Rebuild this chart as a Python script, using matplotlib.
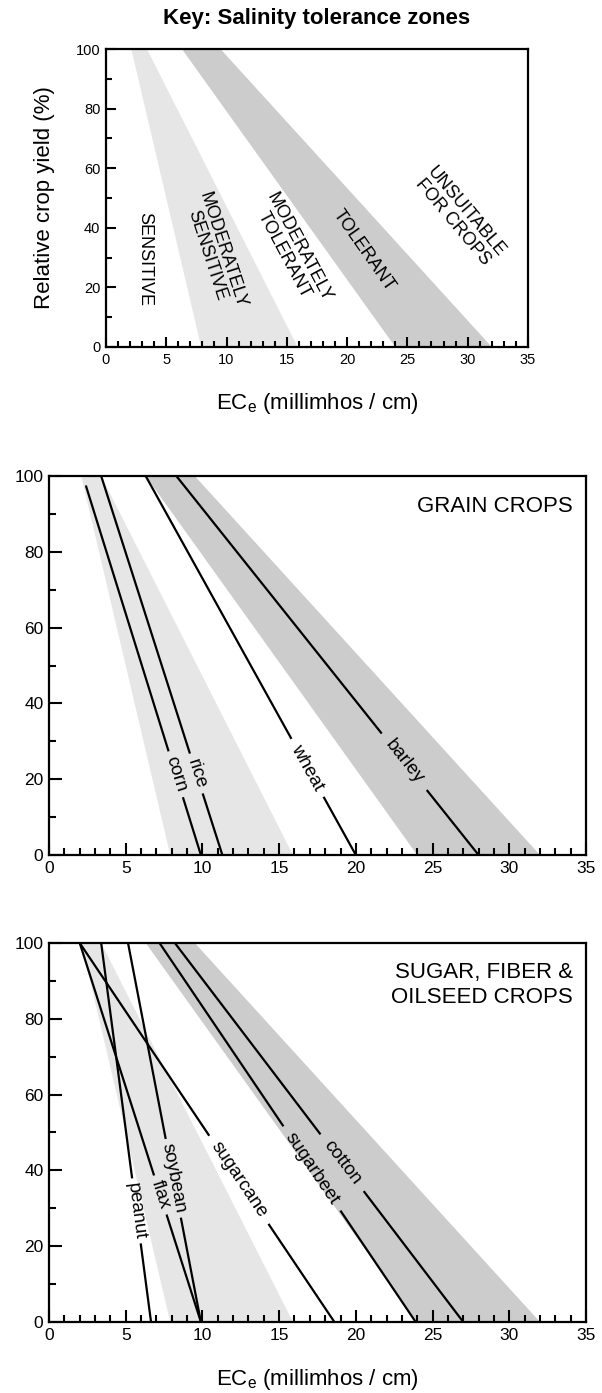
import numpy as np
import matplotlib
matplotlib.use("Agg")
import matplotlib.pyplot as plt
from matplotlib.ticker import MultipleLocator

plt.rcParams['font.family'] = ['Liberation Sans', 'DejaVu Sans']

# salinity tolerance zones (x at 100 % yield, x at 0 % yield)
band_left_top = [2.1, 6.3]
band_right_top = [3.4, 9.5]
band_left_bot = [7.9, 24.0]
band_right_bot = [15.9, 32.0]
band_colors = ['#e6e6e6', '#cccccc']

zone_names = ['SENSITIVE', 'MODERATELY\nSENSITIVE', 'MODERATELY\nTOLERANT',
              'TOLERANT', 'UNSUITABLE\nFOR CROPS']
zone_x = [3.2, 9.0, 15.4, 21.4, 29.3]
zone_y = [29.5, 31.5, 32.0, 32.5, 43.7]
zone_rot = [-90, -72, -62, -55, -50]

# grain crops: start (x, y) and x where yield reaches 0
grain_names = ['corn', 'rice', 'wheat', 'barley']
grain_x_top = [2.4, 3.4, 6.3, 8.3]
grain_y_top = [97.5, 100, 100, 100]
grain_x_zero = [9.9, 11.3, 20.0, 28.0]
grain_label_y = [21.3, 21.5, 23.0, 24.6]

# sugar, fiber & oilseed crops
other_names = ['peanut', 'flax', 'soybean', 'sugarcane', 'sugarbeet', 'cotton']
other_x_top = [3.4, 2.0, 5.15, 2.0, 7.2, 8.2]
other_y_top = [100, 100, 100, 100, 100, 100]
other_x_zero = [6.65, 9.9, 9.9, 18.6, 23.9, 27.0]
other_label_y = [29.3, 33.5, 37.9, 37.5, 40.5, 42.0]

xlabel = 'EC$_\\mathregular{e}$ (millimhos / cm)'

fig = plt.figure(figsize=(6.02, 13.93), dpi=100)


def setup(ax, tick_size, major_len, minor_len):
    ax.set_xlim(0, 35)
    ax.set_ylim(0, 100)
    ax.xaxis.set_major_locator(MultipleLocator(5))
    ax.xaxis.set_minor_locator(MultipleLocator(1))
    ax.yaxis.set_major_locator(MultipleLocator(20))
    ax.yaxis.set_minor_locator(MultipleLocator(10))
    ax.tick_params(which='both', direction='in', top=False, right=False,
                   width=1.5, labelsize=tick_size, pad=4)
    ax.tick_params(which='major', length=major_len)
    ax.tick_params(which='minor', length=minor_len)
    for s in ax.spines.values():
        s.set_linewidth(1.6)
        s.set_zorder(5)
    # zone bands
    for i in range(len(band_colors)):
        ax.fill([band_left_top[i], band_right_top[i], band_right_bot[i], band_left_bot[i]],
                [100, 100, 0, 0], color=band_colors[i], lw=0, zorder=0)


def draw_crops(ax, names, x_top, y_top, x_zero, label_y):
    texts = []
    for i in range(len(names)):
        p0 = ax.transData.transform((x_top[i], y_top[i]))
        p1 = ax.transData.transform((x_zero[i], 0))
        ang = np.degrees(np.arctan2(p1[1] - p0[1], p1[0] - p0[0]))
        ly = label_y[i]
        lx = x_top[i] + (y_top[i] - ly) / y_top[i] * (x_zero[i] - x_top[i])
        t = ax.text(lx, ly, names[i], rotation=ang, rotation_mode='anchor',
                    ha='center', va='center', fontsize=13.5, zorder=4)
        texts.append(t)
    fig.canvas.draw()
    r = fig.canvas.get_renderer()
    for i, t in enumerate(texts):
        bb = t.get_window_extent(r)
        inv = ax.transData.inverted()
        y_hi = inv.transform((0, bb.y1 + 3))[1]
        y_lo = inv.transform((0, bb.y0 - 3))[1]
        ys = np.array([y_top[i], 0.0])
        xs = np.array([x_top[i], x_zero[i]])

        def xat(y):
            return np.interp(y, ys[::-1], xs[::-1])

        ax.plot([x_top[i], xat(y_hi)], [y_top[i], y_hi], color='black', lw=1.6,
                solid_capstyle='butt', zorder=3, clip_on=False)
        ax.plot([xat(y_lo), x_zero[i]], [y_lo, 0], color='black', lw=1.6,
                solid_capstyle='butt', zorder=3, clip_on=False)


# key panel
ax1 = fig.add_axes([0.176, 0.7509, 0.701, 0.2139])
setup(ax1, 10.5, 7, 4.5)
for i in range(len(zone_names)):
    ax1.text(zone_x[i], zone_y[i], zone_names[i], rotation=zone_rot[i],
             ha='center', va='center', ma='center', fontsize=13,
             rotation_mode='anchor', linespacing=0.95)
ax1.set_ylabel('Relative crop yield (%)', fontsize=16)
ax1.yaxis.set_label_coords(-0.121, 0.5)
ax1.text(0.5, -0.188, xlabel, transform=ax1.transAxes, ha='center', va='center',
         fontsize=16)
fig.text(0.5265, 0.987, 'Key: Salinity tolerance zones', ha='center', va='center',
         fontsize=16, fontweight='bold')

# grain crops
ax2 = fig.add_axes([0.0814, 0.3862, 0.892, 0.2721])
setup(ax2, 12.5, 9, 5)
ax2.text(0.975, 0.92, 'GRAIN CROPS', transform=ax2.transAxes, ha='right',
         va='center', fontsize=16)
draw_crops(ax2, grain_names, grain_x_top, grain_y_top, grain_x_zero, grain_label_y)

# sugar, fiber & oilseed crops
ax3 = fig.add_axes([0.0814, 0.0510, 0.892, 0.2721])
setup(ax3, 12.5, 9, 5)
ax3.text(0.975, 0.89, 'SUGAR, FIBER &\nOILSEED CROPS', transform=ax3.transAxes,
         ha='right', va='center', ma='right', fontsize=16, linespacing=1.25)
ax3.text(0.5, -0.153, xlabel, transform=ax3.transAxes, ha='center', va='center',
         fontsize=16)
draw_crops(ax3, other_names, other_x_top, other_y_top, other_x_zero, other_label_y)

fig.savefig('out.png', dpi=100)
